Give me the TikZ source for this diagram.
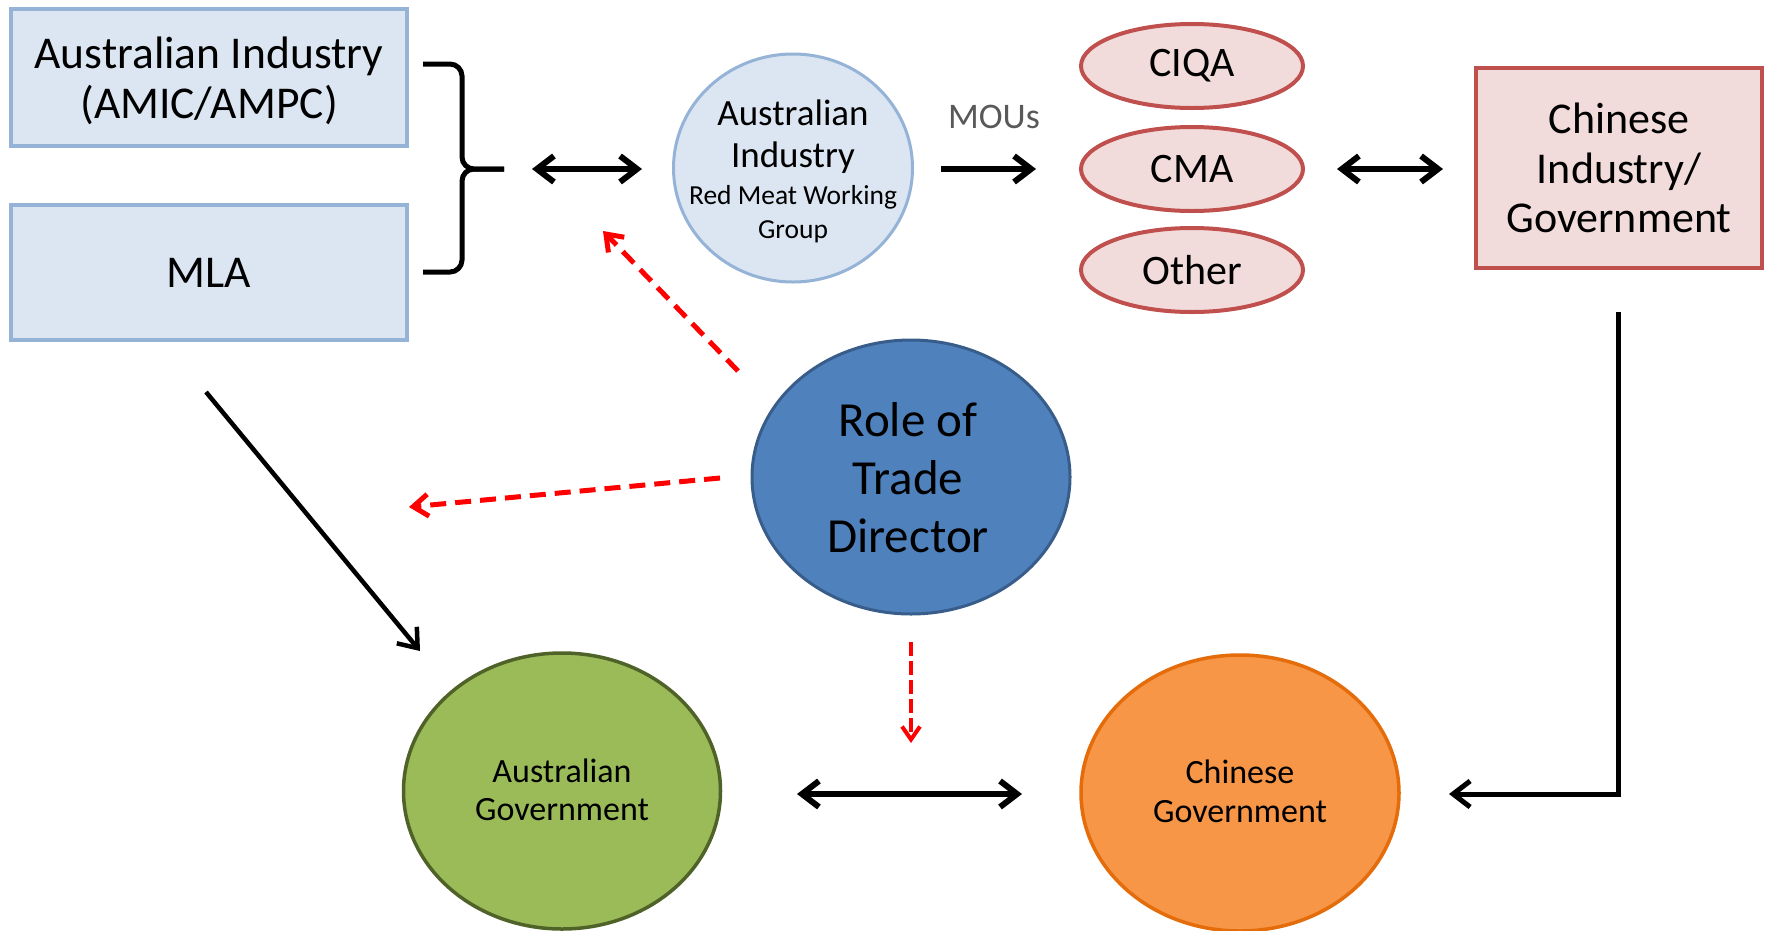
\documentclass[tikz,border=0pt]{standalone}
\usepackage{fontspec}
\setmainfont{Carlito}
\usetikzlibrary{shapes.geometric,arrows.meta}

\definecolor{boxfill}{HTML}{DCE6F2}
\definecolor{boxline}{HTML}{95B3D7}
\definecolor{pinkfill}{HTML}{F2DCDB}
\definecolor{pinkline}{HTML}{C0504D}
\definecolor{rolefill}{HTML}{4F81BD}
\definecolor{roleline}{HTML}{385D8A}
\definecolor{ausfill}{HTML}{9BBB59}
\definecolor{ausline}{HTML}{4F6228}
\definecolor{cnfill}{HTML}{F79646}
\definecolor{cnline}{HTML}{E46C0A}
\definecolor{moutext}{HTML}{595959}
\definecolor{dashred}{HTML}{FF0000}

\newcommand\fsz[2]{\fontsize{#1}{#2}\selectfont}

\begin{document}
\begin{tikzpicture}[x=1pt,y=-1pt,
  bluebox/.style={draw=boxline, fill=boxfill, line width=4pt, inner sep=0pt,
    minimum width=396pt, align=center, font=\fsz{45.5}{50}},
  pinkoval/.style={ellipse, draw=pinkline, fill=pinkfill, line width=4pt, inner sep=0pt,
    minimum width=222pt, minimum height=84pt, font=\fsz{42}{50}},
  bigoval/.style={ellipse, line width=3.5pt, inner sep=0pt,
    minimum width=318pt, minimum height=276pt},
  txt/.style={align=center, inner sep=0pt},
  link/.style={line width=6pt, black, arrows={-Straight Barb[length=17pt, width=26pt]}},
  twoway/.style={line width=6pt, black, arrows={Straight Barb[length=17pt, width=26pt]-Straight Barb[length=17pt, width=26pt]}},
  reddash/.style={line width=5pt, dashred, dash pattern=on 16pt off 9pt,
    arrows={-Straight Barb[length=15pt, width=22pt]}},
  bracket/.style={line width=5pt, black, rounded corners=12pt}
]
\useasboundingbox (0,0) rectangle (1765,930);

% Australian side boxes
\node[bluebox, minimum height=137pt, text depth=0pt] (ind) at (209,77.5) {Australian Industry\\(AMIC/AMPC)};
\node[bluebox, minimum height=135pt] (mla) at (209,272.5) {MLA};

% brace joining the two boxes
\coordinate (brtop) at (423,64);
\coordinate (brbot) at (423,272);
\coordinate (brtip) at (504,169);
\draw[bracket] (brtop) -- (462,64) -- (462,169) -- (brtip);
\draw[bracket] (brbot) -- (462,272) -- (462,169) -- (brtip);

% working group circle
\node[ellipse, draw=boxline, fill=boxfill, line width=3pt, inner sep=0pt,
  minimum width=239pt, minimum height=228pt] (rmwg) at (793,168) {};
\node[txt, font=\fsz{37}{42}] (rmwgtxt) at (793,171)
  {Australian\\Industry\\[-5pt]\fsz{27.5}{32}Red Meat Working\\[-8pt]\fsz{27.5}{32}Group};

\node[txt, text=moutext, font=\fsz{36}{40}] (mou) at (994,117) {MOUs};

% Chinese agencies
\node[pinkoval] (ciqa) at (1192,66) {CIQA};
\node[pinkoval] (cma) at (1192,169) {CMA};
\node[pinkoval] (oth) at (1192,270) {Other};

\node[draw=pinkline, fill=pinkfill, line width=4pt, inner sep=0pt, align=center,
  minimum width=286pt, minimum height=200pt, font=\fsz{44}{49.5}] (cnind) at (1619,168)
  {Chinese\\Industry/\\Government};

% central role
\node[bigoval, draw=roleline, fill=rolefill, line width=3pt, minimum height=274pt] (role) at (911,477) {};
\node[txt, font=\fsz{49}{58}] (roletxt) at (908,478) {Role of\\Trade\\Director};

% governments
\node[bigoval, draw=ausline, fill=ausfill, minimum width=317pt] (ausgov) at (562,791) {};
\node[txt, font=\fsz{34}{38}] (ausgovtxt) at (562,790) {Australian\\Government};
\node[bigoval, draw=cnline, fill=cnfill] (cngov) at (1240,793) {};
\node[txt, font=\fsz{34}{39}] (cngovtxt) at (1240,791) {Chinese\\Government};

% connector end points
\coordinate (a1) at (532,169);  \coordinate (a2) at (642,169);
\coordinate (m1) at (941,169);  \coordinate (m2) at (1036,169);
\coordinate (c1) at (1337,169); \coordinate (c2) at (1443,169);
\coordinate (g1) at (797,794);  \coordinate (g2) at (1022,794);
\coordinate (r1) at (1618,312); \coordinate (r2) at (1449,794);
\coordinate (l1) at (206,392);  \coordinate (l2) at (420,651);
\coordinate (d1s) at (738,371); \coordinate (d1e) at (603,231);
\coordinate (d2s) at (720,478); \coordinate (d2e) at (409,507);
\coordinate (d3s) at (911,642); \coordinate (d3e) at (911,743);

% black connectors
\draw[twoway] (a1) -- (a2);
\draw[link] (m1) -- (m2);
\draw[twoway] (c1) -- (c2);
\draw[twoway] (g1) -- (g2);
\draw[link, line width=5pt] (r1) |- (r2);
\draw[link, line width=4.5pt] (l1) -- (l2);

% dashed red connectors
\draw[reddash] (d1s) -- (d1e);
\draw[reddash] (d2s) -- (d2e);
\draw[reddash, line width=4pt, dash pattern=on 14pt off 5pt,
  arrows={-Straight Barb[length=13pt, width=18pt]}] (d3s) -- (d3e);
\end{tikzpicture}
\end{document}
